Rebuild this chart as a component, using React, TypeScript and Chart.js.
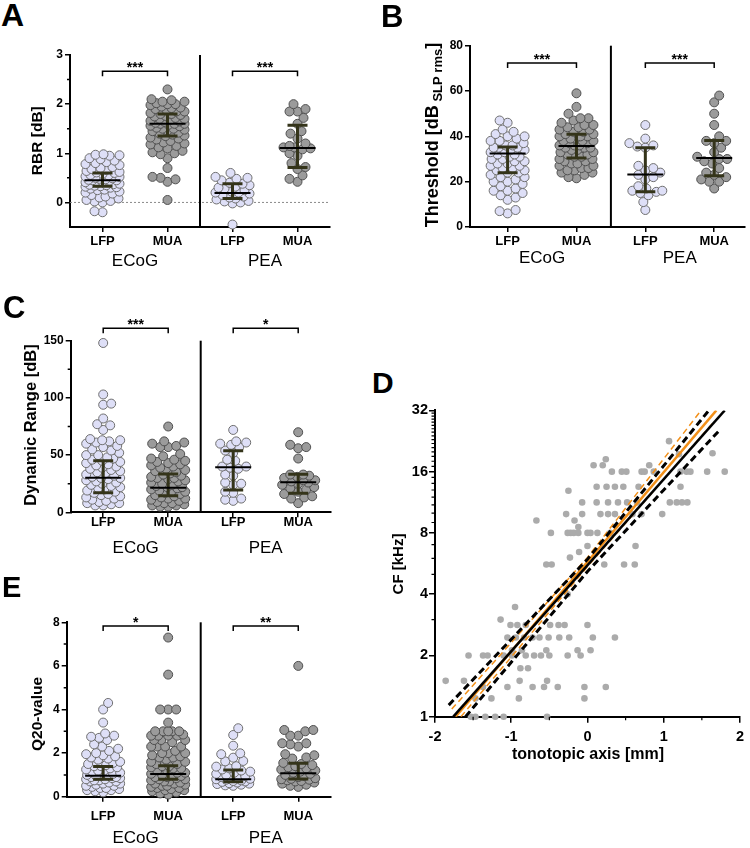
import React, { useEffect, useRef } from 'react';
import { Chart, registerables } from 'chart.js';
Chart.register(...registerables);

const FONT = '"Liberation Sans", Arial, Helvetica, sans-serif';

const categoryLabels = ['LFP', 'MUA', 'LFP', 'MUA'];
const groupLabels = ['ECoG', 'PEA'];

// ---------- Panel A: RBR [dB] ----------
const rbrEcogLfp = [0.98, 0.97, 0.96, 0.95, 0.9, 0.88, 0.85, 0.82, 0.8, 0.78, 0.76, 0.72, 0.7, 0.68, 0.66, 0.64, 0.62, 0.61, 0.6, 0.58, 0.56, 0.55, 0.53, 0.52, 0.5, 0.49, 0.48, 0.47, 0.46, 0.45, 0.45, 0.44, 0.42, 0.41, 0.4, 0.38, 0.37, 0.36, 0.35, 0.34, 0.33, 0.32, 0.31, 0.3, 0.28, 0.26, 0.25, 0.22, 0.2, 0.18, 0.15, 0.12, 0.1, 0.08, 0.05, 0.03, 0.02, 0, -0.2, -0.18];
const rbrEcogMua = [2.3, 2.1, 2.08, 2.05, 2.05, 2.02, 2.0, 2.0, 1.98, 1.95, 1.93, 1.92, 1.9, 1.88, 1.85, 1.85, 1.82, 1.8, 1.8, 1.78, 1.76, 1.75, 1.72, 1.7, 1.7, 1.68, 1.66, 1.65, 1.64, 1.62, 1.6, 1.6, 1.6, 1.58, 1.56, 1.55, 1.52, 1.5, 1.5, 1.48, 1.46, 1.45, 1.42, 1.4, 1.38, 1.36, 1.35, 1.32, 1.3, 1.28, 1.25, 1.22, 1.2, 1.18, 1.15, 1.12, 1.1, 1.05, 1.02, 1.0, 0.98, 0.9, 0.7, 0.52, 0.5, 0.47, 0.42, 0.05];
const rbrPeaLfp = [0.6, 0.52, 0.5, 0.48, 0.45, 0.4, 0.38, 0.35, 0.32, 0.3, 0.28, 0.25, 0.22, 0.2, 0.2, 0.18, 0.15, 0.12, 0.1, 0.08, 0.06, 0.03, 0.02, 0, -0.02, -0.45];
const rbrPeaMua = [2.0, 1.9, 1.85, 1.85, 1.72, 1.6, 1.45, 1.4, 1.3, 1.2, 1.15, 1.12, 1.12, 1.1, 1.08, 1.0, 0.95, 0.8, 0.72, 0.68, 0.55, 0.48, 0.42];
const rbrMedian = [0.45, 1.6, 0.19, 1.11];
const rbrQ1 = [0.33, 1.35, 0.08, 0.71];
const rbrQ3 = [0.6, 1.8, 0.38, 1.57];
const rbrStars = ['***', '***'];
const rbrTicks = [0, 1, 2, 3];
const rbrMinor = [0.5, 1.5, 2.5];

// ---------- Panel B: Threshold ----------
const thrEcogLfp = [47, 46, 43, 42, 41, 40, 40, 39, 38, 38, 37, 36, 36, 35, 35, 35, 34, 34, 33, 33, 32, 32, 31, 31, 30, 30, 29, 29, 28, 28, 27, 27, 26, 26, 25, 25, 24, 24, 23, 22, 22, 21, 20, 20, 19, 18, 17, 16, 16, 15, 14, 13, 12, 7.5, 6, 7];
const thrEcogMua = [59, 53, 50, 48, 48, 47, 46, 45, 45, 44, 44, 43, 43, 42, 42, 41, 41, 40, 40, 40, 39, 39, 38, 38, 38, 37, 37, 36, 36, 36, 35, 35, 35, 34, 34, 33, 33, 32, 32, 31, 31, 30, 30, 29, 29, 28, 28, 27, 27, 26, 26, 25, 25, 24, 24, 23, 22, 21.5];
const thrPeaLfp = [45, 39, 37, 36, 35.5, 35, 27, 26, 25, 24, 23, 22, 21, 18, 17, 16, 16, 15.5, 15, 14, 11, 7.5];
const thrPeaMua = [58, 55, 50, 45, 40, 38, 38, 37, 35, 33, 31, 30, 30, 29, 28, 26, 24, 23, 22, 21, 20, 20, 17];
const thrMedian = [32.4, 35.7, 23.2, 30.5];
const thrQ1 = [23.9, 30.5, 15.5, 22.6];
const thrQ3 = [35.3, 40.9, 35, 38.2];
const thrStars = ['***', '***'];
const thrTicks = [0, 20, 40, 60, 80];

// ---------- Panel C: Dynamic Range ----------
const drEcogLfp = [148, 103, 95, 94, 82, 77, 76, 72, 64, 63, 63, 62, 61, 60, 58, 57, 55, 54, 52, 50, 50, 48, 47, 46, 45, 44, 43, 42, 41, 40, 39, 38, 37, 36, 35, 34, 33, 32, 31, 30, 30, 29, 28, 27, 26, 25, 24, 23, 22, 21, 20, 19, 18, 17, 16, 15, 14, 13, 12, 11, 10, 9, 8, 8, 7, 6, 6];
const drEcogMua = [75, 62, 61, 60, 58, 57, 57, 51, 49, 47, 46, 45, 44, 43, 42, 41, 40, 39, 38, 37, 36, 35, 34, 33, 32, 31, 30, 30, 29, 28, 27, 26, 25, 24, 23, 22, 22, 21, 20, 19, 18, 18, 17, 16, 15, 14, 13, 12, 12, 11, 10, 9, 8, 8, 7, 6, 6, 5, 5];
const drPeaLfp = [72, 62, 61, 60, 59, 57, 54, 52, 46, 45, 40, 40, 39, 38, 33, 32, 26, 25, 24, 18, 17, 12, 11, 10];
const drPeaMua = [70, 59, 57, 56, 47, 33, 33, 32, 31, 30, 28, 28, 27, 26, 25, 24, 22, 21, 20, 18, 16, 14, 13, 12, 8];
const drMedian = [30.2, 21.5, 39.3, 26.2];
const drQ1 = [17, 14.5, 19.5, 16.6];
const drQ3 = [45, 33.5, 53.9, 33.2];
const drStars = ['***', '*'];
const drTicks = [0, 50, 100, 150];
const drMinor = [25, 75, 125];

// ---------- Panel E: Q20-value ----------
const q20EcogLfp = [4.3, 4.0, 3.4, 2.9, 2.8, 2.75, 2.7, 2.6, 2.4, 2.3, 2.2, 2.1, 2.0, 1.95, 1.9, 1.85, 1.8, 1.75, 1.7, 1.6, 1.55, 1.5, 1.45, 1.4, 1.4, 1.35, 1.3, 1.25, 1.2, 1.2, 1.15, 1.1, 1.05, 1.0, 1.0, 0.95, 0.95, 0.9, 0.9, 0.85, 0.85, 0.8, 0.8, 0.75, 0.75, 0.7, 0.7, 0.65, 0.6, 0.6, 0.55, 0.5, 0.5, 0.45, 0.4, 0.4, 0.35, 0.3, 0.3, 0.25, 0.2];
const q20EcogMua = [7.3, 5.6, 4.0, 4.0, 4.0, 3.4, 3.0, 3.0, 3.0, 3.0, 3.0, 2.85, 2.8, 2.8, 2.8, 2.8, 2.6, 2.6, 2.6, 2.5, 2.3, 2.3, 2.3, 2.3, 2.1, 2.0, 2.0, 2.0, 1.9, 1.85, 1.8, 1.8, 1.7, 1.6, 1.6, 1.5, 1.5, 1.4, 1.4, 1.35, 1.3, 1.3, 1.2, 1.2, 1.1, 1.1, 1.05, 1.0, 1.0, 0.95, 0.9, 0.9, 0.85, 0.8, 0.8, 0.75, 0.7, 0.7, 0.65, 0.6, 0.6, 0.55, 0.5, 0.5, 0.45, 0.4, 0.4, 0.35, 0.3, 0.3, 0.25, 0.2, 0.15, 0.1];
const q20PeaLfp = [3.14, 2.83, 2.34, 1.99, 1.95, 1.79, 1.64, 1.62, 1.4, 1.38, 1.3, 1.25, 1.2, 1.15, 1.1, 1.05, 1.0, 0.95, 0.9, 0.88, 0.85, 0.82, 0.8, 0.78, 0.75, 0.72, 0.7, 0.68, 0.65, 0.62, 0.6, 0.58, 0.55, 0.52, 0.5];
const q20PeaMua = [6.0, 3.06, 3.06, 3.0, 2.8, 2.8, 2.45, 2.45, 2.4, 2.3, 1.95, 1.9, 1.8, 1.75, 1.55, 1.5, 1.45, 1.4, 1.35, 1.3, 1.25, 1.2, 1.15, 1.1, 1.05, 1.0, 0.95, 0.9, 0.85, 0.82, 0.8, 0.78, 0.75, 0.72, 0.7, 0.65, 0.6, 0.55, 0.5, 0.45];
const q20Median = [0.96, 1.04, 0.8, 1.07];
const q20Q1 = [0.8, 0.8, 0.69, 0.81];
const q20Q3 = [1.38, 1.42, 1.22, 1.53];
const q20Stars = ['*', '**'];
const q20Ticks = [0, 2, 4, 6, 8];
const q20Minor = [1, 3, 5, 7];

// ---------- Panel D: CF vs tonotopic axis ----------
const cfX = [
  -1.53, -1.47, -1.34, -1.21, -1.1, -0.53,
  -1.47, -1.26, -0.9, -0.04,
  -1.37, -1.05, -0.72, -0.57, -0.39, -0.04, 0.24,
  -1.86, -1.62, -0.89, -0.53,
  -0.88, -0.78,
  -1.56, -1.37, -1.31, -1.1, -0.99, -0.81, -0.7, -0.61, -0.5, -0.26, -0.09,
  -0.99, -0.86, -0.54, -0.13, 0.04,
  -1.05, -0.94, -0.83, -0.72, -0.63, -0.51, -0.37, -0.24, 0.07, 0.36,
  -1.01, -0.92, -0.81, -0.49, -0.38, -0.3, 0,
  -1.14, -0.95, -0.26,
  -0.54, -0.47, 0.22, 0.48, 0.62,
  -0.23, -0.11, 0, 0.63,
  -0.48, -0.26, -0.22, -0.18, -0.12, 0, 0.04, 0.13, 0.3,
  -0.12, -0.67, -0.17,
  -0.28, -0.07, 0.17, 0.27, 0.36, 0.59, 0.71, 0.98,
  -0.07, 0.12, 0.27, 0.4, 0.52, 0.65, 1.08, 1.17, 1.24, 1.31,
  -0.25, 0.12, 0.25, 0.36, 0.47, 0.67, 1.22,
  0.32, 0.45, 0.51, 0.71, 0.75, 0.87, 1.22, 1.3, 1.35, 1.57, 1.8,
  0.08, 0.2, 0.81, 0.24, 1.64, 1.2, 1.07,
];
const cfY = [
  1, 1, 1, 1, 1, 1,
  1.23, 1.23, 1.23, 1.23,
  1.4, 1.4, 1.4, 1.4, 1.4, 1.4, 1.4,
  1.5, 1.5, 1.5, 1.5,
  1.73, 1.73,
  2, 2, 2, 2, 2, 2, 2, 2, 2, 2, 2,
  2.12, 2.12, 2.12, 2.12, 2.12,
  2.45, 2.45, 2.45, 2.45, 2.45, 2.45, 2.45, 2.45, 2.45, 2.45,
  2.82, 2.82, 2.82, 2.82, 2.82, 2.82, 2.82,
  3.0, 3.46, 4.0,
  5.6, 5.6, 5.6, 5.6, 5.6,
  6.05, 6.45, 6.9, 6.9,
  8, 8, 8, 8, 8, 8, 8, 8, 8,
  8.55, 9.2, 9.2,
  9.9, 9.9, 9.9, 9.9, 9.9, 9.9, 9.9, 9.9,
  11.3, 11.3, 11.3, 11.3, 11.3, 11.3, 11.3, 11.3, 11.3, 11.3,
  12.9, 13.5, 13.5, 13.5, 13.5, 13.5, 13.5,
  16, 16, 16, 16, 16, 16, 16, 16, 16, 16, 16,
  17.2, 17.2, 17.2, 18.4, 19.7, 19.5, 22.6,
];
const fitBlackX = [-1.76, 1.8];
const fitBlackY = [1, 32];
const ciBlackUpX = [-1.82, 0, 1.58];
const ciBlackUpY = [1.14, 5.94, 31.6];
const ciBlackLoX = [-1.6, 0, 1.75];
const ciBlackLoY = [1, 5.17, 26];
const fitOrangeX = [-1.73, 1.69];
const fitOrangeY = [1, 32];
const ciOrangeUpX = [-1.78, 0, 1.49];
const ciOrangeUpY = [1.09, 6.06, 32];
const ciOrangeLoX = [-1.66, 0, 1.65];
const ciOrangeLoY = [1, 5.46, 27.9];
const cfTicks = [1, 2, 4, 8, 16, 32];
const mmTicks = [-2, -1, 0, 1, 2];
const mmMinor = [-1.5, -0.5, 0.5, 1.5];

// ---------- helpers ----------
type CatCfg = {
  ox: number; oy: number; w: number; h: number;
  l: number; r: number; t: number; b: number;
  xMin: number; xMax: number; yMin: number; yMax: number;
  yTicks: number[]; yMinor: number[];
  groups: number[][]; med: number[]; q1: number[]; q3: number[];
  stars: string[]; bracketY: number;
  title: string; titleSub?: string; titleEnd?: string;
  titleX: number; titleY: number; titleSize: number; subSize?: number;
  groupY: number; xPad: number; zeroLine?: boolean;
};

function swarmPoints(values: number[], center: number, pxX: number, pxY: number) {
  const d = 8, maxHalf = 17;
  const idx = values.map((_, i) => i).sort((a, b) => values[a] - values[b]);
  const placed: [number, number][] = [];
  const out: { x: number; y: number }[] = [];
  let flip = 1;
  for (const i of idx) {
    const py = values[i] * pxY;
    let best = 0, bestD = -1, found = false;
    for (let k = 0; k <= maxHalf && !found; k++) {
      const cands = k === 0 ? [0] : [k * flip, -k * flip];
      for (const off of cands) {
        let m = Infinity;
        for (const [qx, qy] of placed) {
          const dy = qy - py;
          if (Math.abs(dy) >= d) continue;
          const dist = Math.hypot(qx - off, dy);
          if (dist < m) m = dist;
        }
        if (m >= d) { best = off; found = true; break; }
        if (m > bestD) { bestD = m; best = off; }
      }
    }
    flip = -flip;
    placed.push([best, py]);
    out.push({ x: center + best / pxX, y: values[i] });
  }
  return out;
}

function drawRotatedTitle(ctx: CanvasRenderingContext2D, cx: number, cy: number, parts: { text: string; size: number; dy: number }[]) {
  ctx.save();
  ctx.translate(cx, cy);
  ctx.rotate(-Math.PI / 2);
  ctx.fillStyle = '#000';
  ctx.textBaseline = 'middle';
  ctx.textAlign = 'left';
  let total = 0;
  const widths = parts.map((p) => {
    ctx.font = `bold ${p.size}px ${FONT}`;
    const w = ctx.measureText(p.text).width;
    total += w;
    return w;
  });
  let x = -total / 2;
  parts.forEach((p, i) => {
    ctx.font = `bold ${p.size}px ${FONT}`;
    ctx.fillText(p.text, x, p.dy);
    x += widths[i];
  });
  ctx.restore();
}

const lfpFill = '#dedff7';
const lfpBorder = '#6f6f6f';
const muaFill = '#9b9b9b';
const muaBorder = '#4f4f4f';
const errColor = '#34341a';

function catDeco(cfg: CatCfg) {
  return {
    id: 'catDeco',
    beforeDatasetsDraw(chart: any) {
      const { ctx, chartArea: a, scales } = chart;
      if (cfg.zeroLine) {
        const y0 = scales.y.getPixelForValue(0);
        ctx.save();
        ctx.strokeStyle = '#8a8a8a';
        ctx.lineWidth = 1;
        ctx.setLineDash([2, 2]);
        ctx.beginPath();
        ctx.moveTo(a.left, y0);
        ctx.lineTo(a.right, y0);
        ctx.stroke();
        ctx.restore();
      }
    },
    afterDatasetsDraw(chart: any) {
      const { ctx, scales } = chart;
      const xs = scales.x, ys = scales.y;
      ctx.save();
      for (let i = 0; i < 4; i++) {
        const cx = xs.getPixelForValue(i);
        const ym = ys.getPixelForValue(cfg.med[i]);
        const y1 = ys.getPixelForValue(cfg.q1[i]);
        const y3 = ys.getPixelForValue(cfg.q3[i]);
        ctx.strokeStyle = errColor;
        ctx.lineWidth = 3;
        ctx.beginPath();
        ctx.moveTo(cx, y1); ctx.lineTo(cx, y3);
        ctx.moveTo(cx - 10, y1); ctx.lineTo(cx + 10, y1);
        ctx.moveTo(cx - 10, y3); ctx.lineTo(cx + 10, y3);
        ctx.stroke();
        ctx.strokeStyle = '#000';
        ctx.lineWidth = 2;
        ctx.beginPath();
        ctx.moveTo(cx - 18, ym); ctx.lineTo(cx + 18, ym);
        ctx.stroke();
      }
      ctx.restore();
    },
    afterDraw(chart: any) {
      const { ctx, chartArea: a, scales } = chart;
      const xs = scales.x, ys = scales.y;
      ctx.save();
      const sx = xs.getPixelForValue(1.5);
      ctx.strokeStyle = '#000';
      ctx.lineWidth = 2;
      ctx.beginPath();
      ctx.moveTo(sx, a.top); ctx.lineTo(sx, a.bottom);
      ctx.stroke();
      ctx.lineWidth = 1.5;
      ctx.beginPath();
      for (const v of cfg.yMinor) {
        const py = ys.getPixelForValue(v);
        ctx.moveTo(a.left - 3, py); ctx.lineTo(a.left, py);
      }
      ctx.stroke();
      const yb = ys.getPixelForValue(cfg.bracketY);
      for (let g = 0; g < 2; g++) {
        const x0 = xs.getPixelForValue(2 * g);
        const x1 = xs.getPixelForValue(2 * g + 1);
        ctx.lineWidth = 1.5;
        ctx.beginPath();
        ctx.moveTo(x0, yb + 5); ctx.lineTo(x0, yb); ctx.lineTo(x1, yb); ctx.lineTo(x1, yb + 5);
        ctx.stroke();
        ctx.fillStyle = '#000';
        ctx.font = `bold 14px ${FONT}`;
        ctx.textAlign = 'center';
        ctx.textBaseline = 'alphabetic';
        ctx.fillText(cfg.stars[g], (x0 + x1) / 2, yb + 1);
      }
      ctx.font = `17px ${FONT}`;
      ctx.textAlign = 'center';
      ctx.textBaseline = 'middle';
      ctx.fillStyle = '#000';
      groupLabels.forEach((lab, g) => {
        ctx.fillText(lab, xs.getPixelForValue(2 * g + 0.5), cfg.groupY - cfg.oy);
      });
      ctx.restore();
      const parts = [{ text: cfg.title, size: cfg.titleSize, dy: 0 }];
      if (cfg.titleSub) parts.push({ text: cfg.titleSub, size: cfg.subSize || 12, dy: 5 });
      if (cfg.titleEnd) parts.push({ text: cfg.titleEnd, size: cfg.titleSize, dy: 0 });
      drawRotatedTitle(ctx, cfg.titleX - cfg.ox, cfg.titleY - cfg.oy, parts);
    },
  };
}

const panelA: CatCfg = {
  ox: 0, oy: 40, w: 345, h: 240, l: 70, r: 330, t: 55, b: 227,
  xMin: -0.5, xMax: 3.5, yMin: -0.5, yMax: 3,
  yTicks: rbrTicks, yMinor: rbrMinor,
  groups: [rbrEcogLfp, rbrEcogMua, rbrPeaLfp, rbrPeaMua], med: rbrMedian, q1: rbrQ1, q3: rbrQ3,
  stars: rbrStars, bracketY: 2.67,
  title: 'RBR [dB]', titleX: 37.5, titleY: 140.7, titleSize: 15.5,
  groupY: 261, xPad: 2, zeroLine: true,
};
const panelB: CatCfg = {
  ox: 360, oy: 30, w: 390, h: 250, l: 470, r: 745, t: 45.7, b: 227,
  xMin: -0.546, xMax: 3.44, yMin: 0, yMax: 80,
  yTicks: thrTicks, yMinor: [],
  groups: [thrEcogLfp, thrEcogMua, thrPeaLfp, thrPeaMua], med: thrMedian, q1: thrQ1, q3: thrQ3,
  stars: thrStars, bracketY: 72.4,
  title: 'Threshold [dB', titleSub: ' SLP rms', titleEnd: ']', titleX: 433, titleY: 135, titleSize: 18, subSize: 13,
  groupY: 258, xPad: 2,
};
const panelC: CatCfg = {
  ox: 0, oy: 300, w: 345, h: 270, l: 70.7, r: 330.7, t: 340.7, b: 512.3,
  xMin: -0.5, xMax: 3.5, yMin: 0, yMax: 150,
  yTicks: drTicks, yMinor: drMinor,
  groups: [drEcogLfp, drEcogMua, drPeaLfp, drPeaMua], med: drMedian, q1: drQ1, q3: drQ3,
  stars: drStars, bracketY: 160.8,
  title: 'Dynamic Range [dB]', titleX: 31.5, titleY: 425, titleSize: 16.5,
  groupY: 548, xPad: -2.5,
};
const panelE: CatCfg = {
  ox: 0, oy: 590, w: 345, h: 258, l: 66.7, r: 330.8, t: 622.3, b: 796.7,
  xMin: -0.56, xMax: 3.5, yMin: 0, yMax: 8,
  yTicks: q20Ticks, yMinor: q20Minor,
  groups: [q20EcogLfp, q20EcogMua, q20PeaLfp, q20PeaMua], med: q20Median, q1: q20Q1, q3: q20Q3,
  stars: q20Stars, bracketY: 7.83,
  title: 'Q20-value', titleX: 37.5, titleY: 714, titleSize: 15.5,
  groupY: 838, xPad: 7,
};

function CatChart({ cfg }: { cfg: CatCfg }) {
  const ref = useRef<HTMLCanvasElement>(null);
  useEffect(() => {
    const pxX = (cfg.r - cfg.l) / (cfg.xMax - cfg.xMin);
    const pxY = (cfg.b - cfg.t) / (cfg.yMax - cfg.yMin);
    const datasets = cfg.groups.map((g, i) => {
      const isLfp = i % 2 === 0;
      return {
        label: categoryLabels[i],
        data: swarmPoints(g, i, pxX, pxY),
        pointRadius: 4.5,
        pointBackgroundColor: isLfp ? lfpFill : muaFill,
        pointBorderColor: isLfp ? lfpBorder : muaBorder,
        pointBorderWidth: 1,
        showLine: false,
        clip: false as any,
      };
    });
    const chart = new Chart(ref.current!, {
      type: 'scatter',
      data: { datasets },
      options: {
        responsive: false,
        maintainAspectRatio: false,
        animation: false,
        devicePixelRatio: 1,
        layout: { padding: { left: 0, top: cfg.t - cfg.oy, right: cfg.ox + cfg.w - cfg.r, bottom: 0 } },
        plugins: { legend: { display: false }, tooltip: { enabled: false } },
        scales: {
          x: {
            type: 'linear', min: cfg.xMin, max: cfg.xMax,
            afterBuildTicks: (s: any) => { s.ticks = [0, 1, 2, 3].map((v) => ({ value: v })); },
            afterFit: (s: any) => { s.height = cfg.oy + cfg.h - cfg.b; },
            ticks: {
              callback: (v: any) => categoryLabels[Math.round(Number(v))] ?? '',
              color: '#000', font: { family: FONT, size: 13, weight: 'bold' },
              padding: cfg.xPad, maxRotation: 0, autoSkip: false,
            },
            grid: { display: true, drawOnChartArea: false, drawTicks: true, tickLength: 5, color: '#000', lineWidth: 1.5 },
            border: { display: true, color: '#000', width: 2 },
          },
          y: {
            type: 'linear', min: cfg.yMin, max: cfg.yMax,
            afterBuildTicks: (s: any) => { s.ticks = cfg.yTicks.map((v) => ({ value: v })); },
            afterFit: (s: any) => { s.width = cfg.l - cfg.ox; },
            ticks: {
              callback: (v: any) => String(v),
              color: '#000', font: { family: FONT, size: 12, weight: 'bold' }, padding: 2, autoSkip: false,
            },
            grid: { display: true, drawOnChartArea: false, drawTicks: true, tickLength: 5, color: '#000', lineWidth: 1.5 },
            border: { display: true, color: '#000', width: 2 },
          },
        },
      } as any,
      plugins: [catDeco(cfg)],
    });
    return () => chart.destroy();
  }, [cfg]);
  return (
    <canvas
      ref={ref}
      width={cfg.w}
      height={cfg.h}
      style={{ position: 'absolute', left: cfg.ox, top: cfg.oy, width: cfg.w, height: cfg.h }}
    />
  );
}

const D = { ox: 360, oy: 400, w: 390, h: 370, l: 435, r: 742.3, t: 410.4, b: 716.7 };

function zip(xs: number[], ys: number[]) {
  return xs.map((x, i) => ({ x, y: ys[i] }));
}

function ToneChart() {
  const ref = useRef<HTMLCanvasElement>(null);
  useEffect(() => {
    const lineDs = (xs: number[], ys: number[], color: string, width: number, dash: number[]) => ({
      data: zip(xs, ys), showLine: true, borderColor: color, borderWidth: width, borderDash: dash,
      pointRadius: 0, fill: false, tension: 0,
    });
    const cfMinor: number[] = [];
    for (let v = 3; v < 32; v++) if ((v & (v - 1)) !== 0) cfMinor.push(v);
    const chart = new Chart(ref.current!, {
      type: 'scatter',
      data: {
        datasets: [
          lineDs(fitBlackX, fitBlackY, '#000', 2.5, []),
          lineDs(ciBlackUpX, ciBlackUpY, '#000', 3, [7, 4]),
          lineDs(ciBlackLoX, ciBlackLoY, '#000', 3, [7, 4]),
          lineDs(fitOrangeX, fitOrangeY, '#f39019', 2.5, []),
          lineDs(ciOrangeUpX, ciOrangeUpY, '#f39019', 1.5, [6, 4]),
          lineDs(ciOrangeLoX, ciOrangeLoY, '#f39019', 1.5, [6, 4]),
          {
            data: zip(cfX, cfY), pointRadius: 3.3, pointBackgroundColor: '#ababab',
            pointBorderWidth: 0, showLine: false, clip: false,
          },
        ],
      },
      options: {
        responsive: false,
        maintainAspectRatio: false,
        animation: false,
        devicePixelRatio: 1,
        layout: { padding: { left: 0, top: D.t - D.oy, right: D.ox + D.w - D.r, bottom: 0 } },
        plugins: { legend: { display: false }, tooltip: { enabled: false } },
        scales: {
          x: {
            type: 'linear', min: -2, max: 2,
            afterBuildTicks: (s: any) => { s.ticks = mmTicks.map((v) => ({ value: v })); },
            afterFit: (s: any) => { s.height = D.oy + D.h - D.b; },
            ticks: { callback: (v: any) => String(v), color: '#000', font: { family: FONT, size: 14.5, weight: 'bold' }, padding: 6, maxRotation: 0, autoSkip: false },
            grid: { display: true, drawOnChartArea: false, drawTicks: true, tickLength: 6, color: '#000', lineWidth: 1.5 },
            border: { display: true, color: '#000', width: 2 },
          },
          y: {
            type: 'logarithmic', min: 1, max: 32,
            afterBuildTicks: (s: any) => { s.ticks = cfTicks.map((v) => ({ value: v })); },
            afterFit: (s: any) => { s.width = D.l - D.ox; },
            ticks: { callback: (v: any) => String(v), color: '#000', font: { family: FONT, size: 14.5, weight: 'bold' }, padding: 1, autoSkip: false },
            grid: { display: true, drawOnChartArea: false, drawTicks: true, tickLength: 6, color: '#000', lineWidth: 1.5 },
            border: { display: true, color: '#000', width: 2 },
          },
        },
      } as any,
      plugins: [{
        id: 'toneDeco',
        afterDraw(chart: any) {
          const { ctx, chartArea: a, scales } = chart;
          ctx.save();
          ctx.strokeStyle = '#000';
          ctx.lineWidth = 1.2;
          ctx.beginPath();
          for (const v of cfMinor) {
            const py = scales.y.getPixelForValue(v);
            ctx.moveTo(a.left - 3.5, py); ctx.lineTo(a.left, py);
          }
          for (const v of mmMinor) {
            const px = scales.x.getPixelForValue(v);
            ctx.moveTo(px, a.bottom); ctx.lineTo(px, a.bottom + 3.5);
          }
          ctx.stroke();
          ctx.fillStyle = '#000';
          ctx.font = `bold 16px ${FONT}`;
          ctx.textAlign = 'center';
          ctx.textBaseline = 'middle';
          ctx.fillText('tonotopic axis [mm]', 588 - D.ox, 755 - D.oy);
          ctx.restore();
          drawRotatedTitle(ctx, 399 - D.ox, 564 - D.oy, [{ text: 'CF [kHz]', size: 15, dy: 0 }]);
        },
      }],
    });
    return () => chart.destroy();
  }, []);
  return (
    <canvas
      ref={ref}
      width={D.w}
      height={D.h}
      style={{ position: 'absolute', left: D.ox, top: D.oy, width: D.w, height: D.h }}
    />
  );
}

const letterStyle = (left: number, capTop: number, size: number): React.CSSProperties => ({
  position: 'absolute', left, top: capTop - 0.13 * size, fontFamily: FONT, fontWeight: 'bold',
  fontSize: size, lineHeight: `${size}px`, color: '#000',
});

export default function App() {
  return (
    <div style={{ position: 'absolute', left: 0, top: 0, width: 750, height: 848, background: '#fff', overflow: 'hidden' }}>
      <CatChart cfg={panelA} />
      <CatChart cfg={panelB} />
      <CatChart cfg={panelC} />
      <CatChart cfg={panelE} />
      <ToneChart />
      <div style={letterStyle(1, 3, 32)}>A</div>
      <div style={letterStyle(381, 5, 31)}>B</div>
      <div style={letterStyle(3, 296, 31)}>C</div>
      <div style={letterStyle(372, 372, 30)}>D</div>
      <div style={letterStyle(2, 577, 29)}>E</div>
    </div>
  );
}
